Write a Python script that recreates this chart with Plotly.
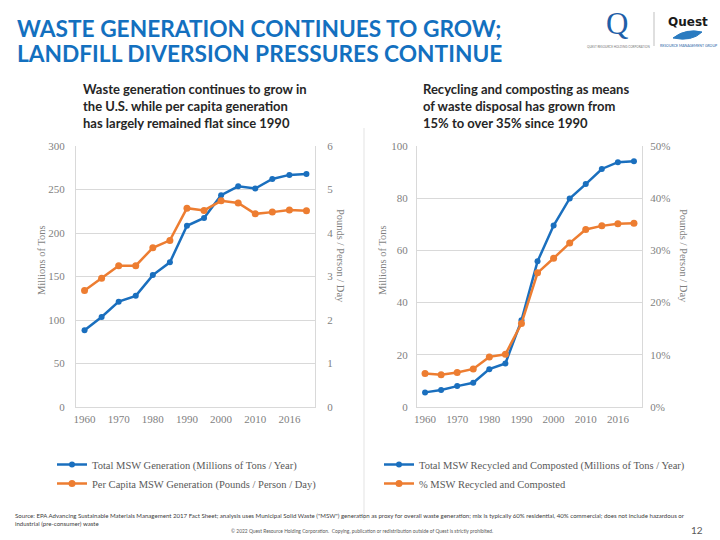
import plotly.graph_objects as go

years = ["1960", "1965", "1970", "1975", "1980", "1985", "1990", "1995",
         "2000", "2005", "2010", "2015", "2016", "2017"]
tick_years = ["1960", "1970", "1980", "1990", "2000", "2010", "2016"]

total_gen = [88.1, 103.4, 121.1, 127.8, 151.6, 166.3, 208.3, 217.3,
             243.5, 253.7, 251.1, 262.1, 266.8, 267.8]
per_capita = [2.68, 2.96, 3.25, 3.25, 3.66, 3.83, 4.57, 4.52,
              4.74, 4.69, 4.44, 4.48, 4.53, 4.51]
recycled = [5.6, 6.5, 8.0, 9.3, 14.5, 16.7, 33.2, 55.8,
            69.5, 79.9, 85.4, 91.2, 93.8, 94.2]
recycled_pct = [0.064, 0.062, 0.066, 0.073, 0.096, 0.101, 0.160, 0.257,
                0.285, 0.314, 0.340, 0.347, 0.351, 0.352]

BLUE = "#1A6FBE"
ORANGE = "#ED7D31"
GRID = "#D9D9D9"
TICK = "#7F7F7F"
SERIF = "Liberation Serif, DejaVu Serif, serif"
SANS = "Lato, Roboto, sans-serif"
TITLE_BLUE = "#1370BF"

fig = go.Figure()

fig.add_trace(go.Scatter(x=years, y=total_gen, name="Total MSW Generation (Millions of Tons / Year)",
                         mode="lines+markers", line=dict(color=BLUE, width=2.5),
                         marker=dict(size=6, color=BLUE), xaxis="x", yaxis="y", legend="legend"))
fig.add_trace(go.Scatter(x=years, y=per_capita, name="Per Capita MSW Generation (Pounds / Person / Day)",
                         mode="lines+markers", line=dict(color=ORANGE, width=2.5),
                         marker=dict(size=7, color=ORANGE), xaxis="x", yaxis="y2", legend="legend"))
fig.add_trace(go.Scatter(x=years, y=recycled, name="Total MSW Recycled and Composted (Millions of Tons / Year)",
                         mode="lines+markers", line=dict(color=BLUE, width=2.5),
                         marker=dict(size=6, color=BLUE), xaxis="x2", yaxis="y3", legend="legend2"))
fig.add_trace(go.Scatter(x=years, y=recycled_pct, name="% MSW Recycled and Composted",
                         mode="lines+markers", line=dict(color=ORANGE, width=2.5),
                         marker=dict(size=7, color=ORANGE), xaxis="x2", yaxis="y4", legend="legend2"))

W, H = 720, 540
def px(x):
    return x / W
def py(y):
    return 1 - y / H

ydom = [py(407), py(146)]
tickfont = dict(family=SERIF, size=11, color=TICK)

xcommon = dict(type="category", categoryorder="array", categoryarray=years,
               tickmode="array", tickvals=tick_years, ticktext=tick_years,
               range=[-0.5, 13.5], showgrid=False, showline=True, linecolor=GRID,
               linewidth=1, ticks="", tickfont=tickfont, zeroline=False,
               automargin=False, ticklabelstandoff=2)
ycommon = dict(domain=ydom, showline=True, linecolor=GRID, tickfont=tickfont,
               zeroline=False, ticks="", automargin=False)

fig.update_layout(
    width=W, height=H, margin=dict(l=0, r=0, t=0, b=0, autoexpand=False),
    paper_bgcolor="white", plot_bgcolor="white",
    xaxis=dict(domain=[px(76), px(315)], anchor="y", **xcommon),
    xaxis2=dict(domain=[px(417), px(642)], anchor="y3", **xcommon),
    yaxis=dict(range=[0, 300], dtick=50, anchor="x", showgrid=True, gridcolor=GRID,
               ticklabelstandoff=8, **ycommon),
    yaxis2=dict(range=[0, 6], dtick=1, anchor="x", overlaying="y", side="right",
                showgrid=False, ticklabelstandoff=9, **ycommon),
    yaxis3=dict(range=[0, 100], dtick=20, anchor="x2", showgrid=True, gridcolor=GRID,
                ticklabelstandoff=6, **ycommon),
    yaxis4=dict(range=[0, 0.5], dtick=0.1, tickformat=".0%", anchor="x2",
                overlaying="y3", side="right", showgrid=False, ticklabelstandoff=5, **ycommon),
    legend=dict(x=px(52), y=py(450), xanchor="left", yanchor="top",
                font=dict(family=SERIF, size=10.5, color="#595959"),
                itemwidth=30, tracegroupgap=0, bgcolor="rgba(0,0,0,0)"),
    legend2=dict(x=px(379), y=py(450), xanchor="left", yanchor="top",
                 font=dict(family=SERIF, size=10.5, color="#595959"),
                 itemwidth=30, tracegroupgap=0, bgcolor="rgba(0,0,0,0)"),
    showlegend=True,
)

ann = []
# Title (two lines)
for line, yc in [("WASTE GENERATION CONTINUES TO GROW;", 28.5), ("LANDFILL DIVERSION PRESSURES CONTINUE", 54)]:
    ann.append(dict(text="<b>" + line + "</b>", x=px(15), y=py(yc), xref="paper", yref="paper",
                    xanchor="left", yanchor="middle", align="left", showarrow=False,
                    font=dict(family=SANS, size=22.7, color=TITLE_BLUE)))
# Subtitles
ann.append(dict(text="<b>Waste generation continues to grow in<br>the U.S. while per capita generation<br>has largely remained flat since 1990</b>",
                x=px(81), y=py(79), xref="paper", yref="paper", xanchor="left", yanchor="top",
                align="left", showarrow=False,
                font=dict(family=SANS, size=13, color="#262626")))
ann.append(dict(text="<b>Recycling and composting as means<br>of waste disposal has grown from<br>15% to over 35% since 1990</b>",
                x=px(421), y=py(79), xref="paper", yref="paper", xanchor="left", yanchor="top",
                align="left", showarrow=False,
                font=dict(family=SANS, size=13, color="#262626")))
# Axis titles
for xx, txt, ang, yy in [(42, "Millions of Tons", -90, 260), (341, "Pounds / Person / Day", 90, 256),
                         (383, "Millions of Tons", -90, 260), (684, "Pounds / Person / Day", 90, 256)]:
    ann.append(dict(text=txt, x=px(xx), y=py(yy), xref="paper", yref="paper",
                    xanchor="center", yanchor="middle", textangle=ang, showarrow=False,
                    font=dict(family=SERIF, size=10.5, color=TICK)))
# Footnotes
ann.append(dict(text="Source: EPA Advancing Sustainable Materials Management 2017 Fact Sheet; analysis uses Municipal Solid Waste (\"MSW\") generation as proxy for overall waste generation; mix is typically 60% residential, 40% commercial; does not include hazardous or<br>industrial (pre-consumer) waste",
                x=px(13), y=py(510), xref="paper", yref="paper", xanchor="left", yanchor="top",
                align="left", showarrow=False,
                font=dict(family=SANS, size=6.1, color="#404040")))
ann.append(dict(text="© 2022 Quest Resource Holding Corporation.  Copying, publication or redistribution outside of Quest is strictly prohibited.",
                x=px(362), y=py(531), xref="paper", yref="paper", xanchor="center", yanchor="middle",
                showarrow=False, font=dict(family=SANS, size=4.9, color="#595959")))
ann.append(dict(text="12", x=px(697), y=py(530), xref="paper", yref="paper", xanchor="center",
                yanchor="middle", showarrow=False, font=dict(family=SANS, size=10, color="#595959")))
# Logos (approximation)
ann.append(dict(text="Q", x=px(617), y=py(24), xref="paper", yref="paper", xanchor="center",
                yanchor="middle", showarrow=False,
                font=dict(family=SERIF, size=31, color="#1F5FA8")))
ann.append(dict(text="QUEST RESOURCE HOLDING CORPORATION", x=px(618), y=py(47), xref="paper", yref="paper",
                xanchor="center", yanchor="middle", showarrow=False,
                font=dict(family=SANS, size=3, color="#777777")))
ann.append(dict(text="<b>Quest</b>", x=px(688), y=py(22), xref="paper", yref="paper", xanchor="center",
                yanchor="middle", showarrow=False,
                font=dict(family="DejaVu Sans, sans-serif", size=12, color="#1a1a1a")))
ann.append(dict(text="RESOURCE MANAGEMENT GROUP", x=px(688), y=py(46), xref="paper", yref="paper",
                xanchor="center", yanchor="middle", showarrow=False,
                font=dict(family=SANS, size=3.5, color="#1F5FA8")))
fig.update_layout(annotations=ann)

shapes = [
    dict(type="line", xref="paper", yref="paper", x0=px(364), x1=px(364), y0=py(128), y1=py(520),
         line=dict(color="#E3E3E3", width=1)),
    dict(type="line", xref="paper", yref="paper", x0=px(654), x1=px(654), y0=py(12), y1=py(46),
         line=dict(color="#BFBFBF", width=1)),
    dict(type="path", xref="paper", yref="paper",
         path=f"M {px(673)},{py(38)} Q {px(686)},{py(28)} {px(702)},{py(32)} Q {px(692)},{py(42)} {px(673)},{py(38)} Z",
         fillcolor="#2A7BC0", line=dict(color="#2A7BC0", width=1)),
]
fig.update_layout(shapes=shapes)

fig.write_html("out.html")
